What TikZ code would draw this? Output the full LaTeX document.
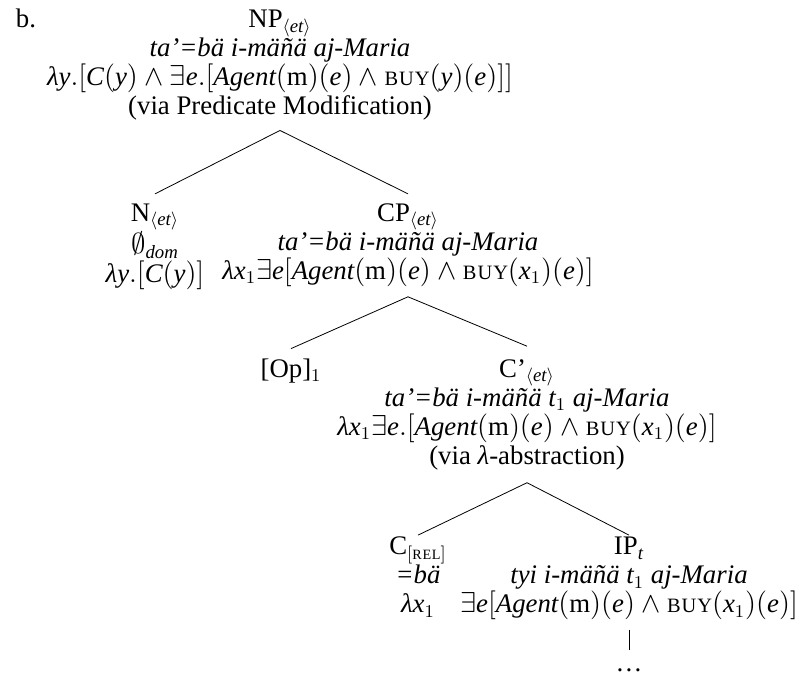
\documentclass[tikz,border=0pt]{standalone}
\usepackage{fontspec}
\setmainfont{Liberation Serif}
\usetikzlibrary{positioning}
% Times-like italic letters in math
\DeclareSymbolFont{tletters}{TU}{\rmdefault}{m}{it}
\newcommand{\tletter}[1]{\Umathcode`#1=7 \symtletters `#1\relax}
\tletter{y}\tletter{C}\tletter{e}\tletter{x}\tletter{t}\tletter{d}\tletter{o}\tletter{m}
\Umathchardef\lambda=7 \symtletters "03BB
\newcommand{\smcaps}[1]{{\fontsize{10.2}{11}\selectfont\addfontfeature{LetterSpace=5}#1}}
\newcommand{\buy}{\mbox{\smcaps{BUY}}}
\newcommand{\tet}{_{\langle et\rangle}}

\begin{document}
\begin{tikzpicture}[
        x=1pt, y=1pt,
        tnode/.style={align=center, inner sep=0pt, outer xsep=0pt, outer ysep=5pt, font=\fontsize{13.4}{14.5}\selectfont},
        leaf/.style={tnode, outer ysep=1pt},
        stem/.style={shorten <=4pt, shorten >=4pt}
    ]
        \useasboundingbox (0,0) rectangle (398.5,-337);

        % Example number and root
        \node[tnode, anchor=base west] (ex) at (8,-14) {b.};
        \node[tnode, anchor=north] (np) at (140,-0.1) {NP$\tet$\\ \textit{ta’=bä i-mäñä aj-Maria}\\ $\lambda y.[C(y)\wedge\exists e.[\mathit{Agent}(\mathrm{m})(e)\wedge\buy(y)(e)]]$\\ (via Predicate Modification)};

        % Daughters of NP
        \node[tnode, below=31.7pt of np.south, xshift=-62.5pt] (n) {N$\tet$\\ $\emptyset_{dom}$\\ $\lambda y.[C(y)]$};
        \node[tnode, below=31.7pt of np.south, xshift=64pt] (cp) {CP$\tet$\\ \textit{ta’=bä i-mäñä aj-Maria}\\ $\lambda x_1\exists e[\mathit{Agent}(\mathrm{m})(e)\wedge\buy(x_1)(e)]$};

        % Daughters of CP
        \node[tnode, below=25.9pt of cp.south, xshift=-58.5pt] (op) {[Op]$_1$};
        \node[tnode, outer ysep=6.5pt, below=24.7pt of cp.south, xshift=59.5pt] (cbar) {C’$\tet$\\ \textit{ta’=bä i-mäñä $t_1$ aj-Maria}\\ $\lambda x_1\exists e.[\mathit{Agent}(\mathrm{m})(e)\wedge\buy(x_1)(e)]$\\ (via $\lambda$-abstraction)};

        % Daughters of C'
        \node[leaf, below=26.2pt of cbar.south, xshift=-54.5pt] (crel) {C$_{[\mbox{\fontsize{7.1}{8}\selectfont\addfontfeature{LetterSpace=5}REL}]}$\\ \textit{=bä}\\ $\lambda x_1$};
        \node[leaf, below=26.2pt of cbar.south, xshift=51pt] (ip) {IP$_t$\\ \textit{tyi i-mäñä $t_1$ aj-Maria}\\ $\exists e[\mathit{Agent}(\mathrm{m})(e)\wedge\buy(x_1)(e)]$};
        \node[tnode, below=18.3pt of ip.south] (dots) {\dots};

        % Branches
        \draw (np.south) -- (n.north);
        \draw (np.south) -- (cp.north);
        \draw (cp.south) -- (op.north);
        \draw (cp.south) -- (cbar.north);
        \draw (cbar.south) -- (crel.north);
        \draw (cbar.south) -- (ip.north);
        \draw[stem] (ip.south) -- (dots.north);
    \end{tikzpicture}
\end{document}
